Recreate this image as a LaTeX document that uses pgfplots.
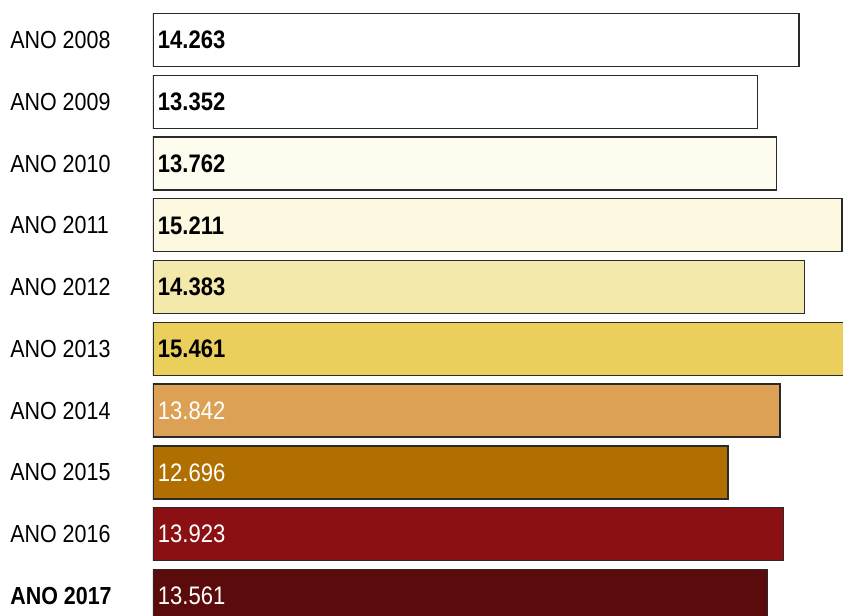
\documentclass[border=0pt]{standalone}
\usepackage{pgfplots}
\pgfplotsset{compat=1.18}
\usepackage{fontspec}
\setmainfont{Liberation Sans}[FakeStretch=0.87]
\definecolor{c08}{HTML}{FFFFFF}
\definecolor{c09}{HTML}{FFFFFF}
\definecolor{c10}{HTML}{FEFCEF}
\definecolor{c11}{HTML}{FDF9E0}
\definecolor{c12}{HTML}{F3E9AA}
\definecolor{c13}{HTML}{EBCF5D}
\definecolor{c14}{HTML}{DCA154}
\definecolor{c15}{HTML}{B06F00}
\definecolor{c16}{HTML}{8A1013}
\definecolor{c17}{HTML}{5C0B0C}
\definecolor{edge}{HTML}{2A2A2A}
\newcommand{\lab}{\fontsize{18.5}{18.5}\selectfont}
\newcommand{\vlab}{\fontsize{19}{19}\selectfont}
\begin{document}
\begin{tikzpicture}
\begin{axis}[
  at={(114.75pt,0pt)}, anchor=south west,
  scale only axis, width=517.5pt, height=462pt,
  xmin=0, xmax=15.235, ymin=-0.647, ymax=9.324, y dir=reverse,
  axis line style={draw=none}, xtick=\empty,
  ytick={0,...,9},
  yticklabels={ANO 2008,ANO 2009,ANO 2010,ANO 2011,ANO 2012,ANO 2013,ANO 2014,ANO 2015,ANO 2016,\textbf{ANO 2017}},
  major tick length=0pt,
  yticklabel style={anchor=west, xshift=-107.25pt, inner sep=0pt, font=\lab},
  bar width=39.75pt, clip=true,
  every axis plot/.append style={bar shift=0pt},
]
\pgfplotsset{mybar/.style={xbar, draw=edge, line width=1pt, fill=#1}}
\addplot[mybar=c08] coordinates {(14.263,0)};
\addplot[mybar=c09] coordinates {(13.352,1)};
\addplot[mybar=c10] coordinates {(13.762,2)};
\addplot[mybar=c11] coordinates {(15.211,3)};
\addplot[mybar=c12] coordinates {(14.383,4)};
\addplot[mybar=c13] coordinates {(15.461,5)};
\addplot[mybar=c14] coordinates {(13.842,6)};
\addplot[mybar=c15] coordinates {(12.696,7)};
\addplot[mybar=c16] coordinates {(13.923,8)};
\addplot[mybar=c17] coordinates {(13.561,9)};
\addplot[draw=none, mark=none, nodes near coords, point meta=explicit symbolic,
  every node near coord/.style={anchor=west, inner sep=0pt, xshift=3.5pt, text=black, font=\vlab\bfseries}]
  table[meta=lab] {
x y lab
0 0 14.263
0 1 13.352
0 2 13.762
0 3 15.211
0 4 14.383
0 5 15.461
};
\addplot[draw=none, mark=none, nodes near coords, point meta=explicit symbolic,
  every node near coord/.style={anchor=west, inner sep=0pt, xshift=3.5pt, text=white, font=\vlab}]
  table[meta=lab] {
x y lab
0 6 13.842
0 7 12.696
0 8 13.923
0 9 13.561
};
\end{axis}
\pgfresetboundingbox
\useasboundingbox (0,0) rectangle (632.25pt,462pt);
\end{tikzpicture}
\end{document}
